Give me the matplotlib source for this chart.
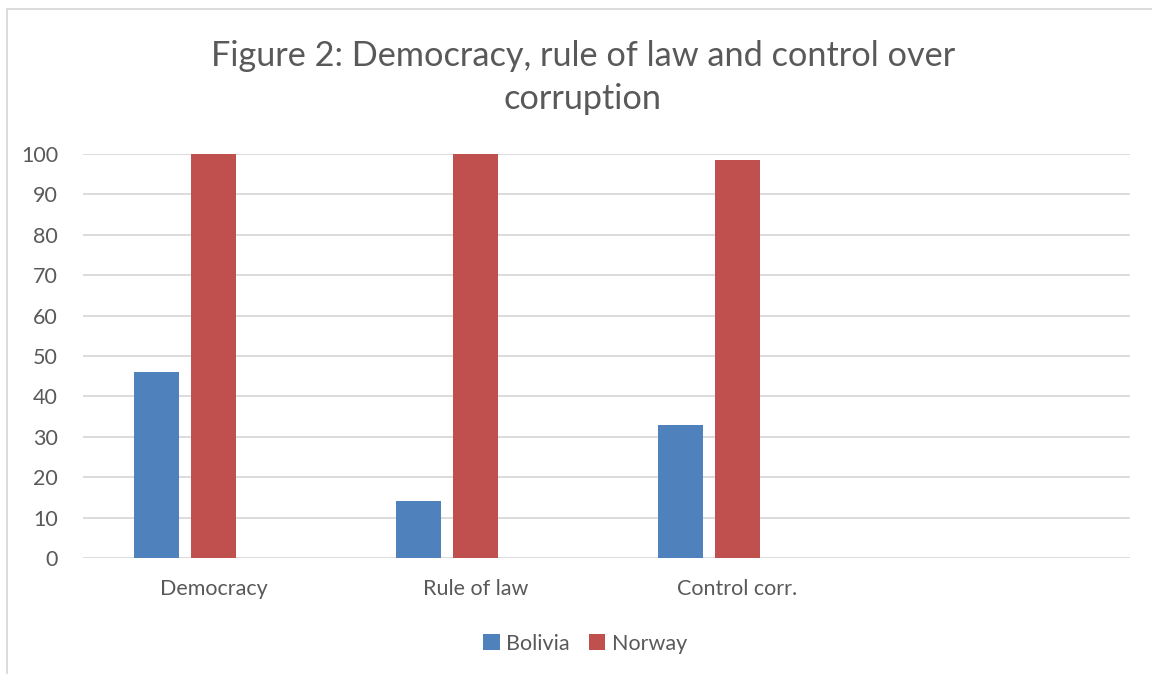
import numpy as np
import matplotlib.pyplot as plt
from matplotlib.patches import Rectangle

plt.rcParams['font.family'] = ['Lato', 'DejaVu Sans']

categories = ['Democracy', 'Rule of law', 'Control corr.', '']
bolivia = [46, 14.2, 33]
norway = [100, 100, 98.6]
y_ticks = [0, 10, 20, 30, 40, 50, 60, 70, 80, 90, 100]

blue = '#4F81BD'
red = '#C0504D'
grey_text = '#595959'

fig = plt.figure(figsize=(11.52, 6.74), dpi=100)
ax = fig.add_axes([0.072, 0.172, 0.909, 0.5995])

# three series slots per category in the original workbook, third one empty
x = np.arange(len(categories))
bar_w = 0.172
step = bar_w + 0.046
ax.bar(x[:len(bolivia)] - step, bolivia, width=bar_w, color=blue, label='Bolivia', zorder=3)
ax.bar(x[:len(norway)], norway, width=bar_w, color=red, label='Norway', zorder=3)

ax.set_xlim(-0.5, len(categories) - 0.5)
ax.set_ylim(0, 100)
ax.set_yticks(y_ticks)
ax.set_xticks(x)
ax.set_xticklabels(categories)
ax.tick_params(axis='both', length=0, labelsize=15.5, colors=grey_text)
ax.tick_params(axis='x', pad=15)
ax.tick_params(axis='y', pad=18)
ax.grid(axis='y', color='#D9D9D9', linewidth=1.3, zorder=0)
for s in ax.spines.values():
    s.set_visible(False)

fig.suptitle('Figure 2: Democracy, rule of law and control over\ncorruption',
             x=0.506, y=0.94, fontsize=24.7, color=grey_text, linespacing=1.42)

fig.legend(loc='center', bbox_to_anchor=(0.508, 0.045), ncol=2, frameon=False,
           fontsize=15.5, labelcolor=grey_text, handlelength=0.75, handleheight=0.75,
           handletextpad=0.3, columnspacing=0.9)

fig.patches.append(Rectangle((7 / 1152, -0.1), 1.2, 1 - 9 / 674 + 0.1,
                             transform=fig.transFigure, fill=False,
                             edgecolor='#D9D9D9', linewidth=1.3))

plt.savefig('out.png', dpi=100)
